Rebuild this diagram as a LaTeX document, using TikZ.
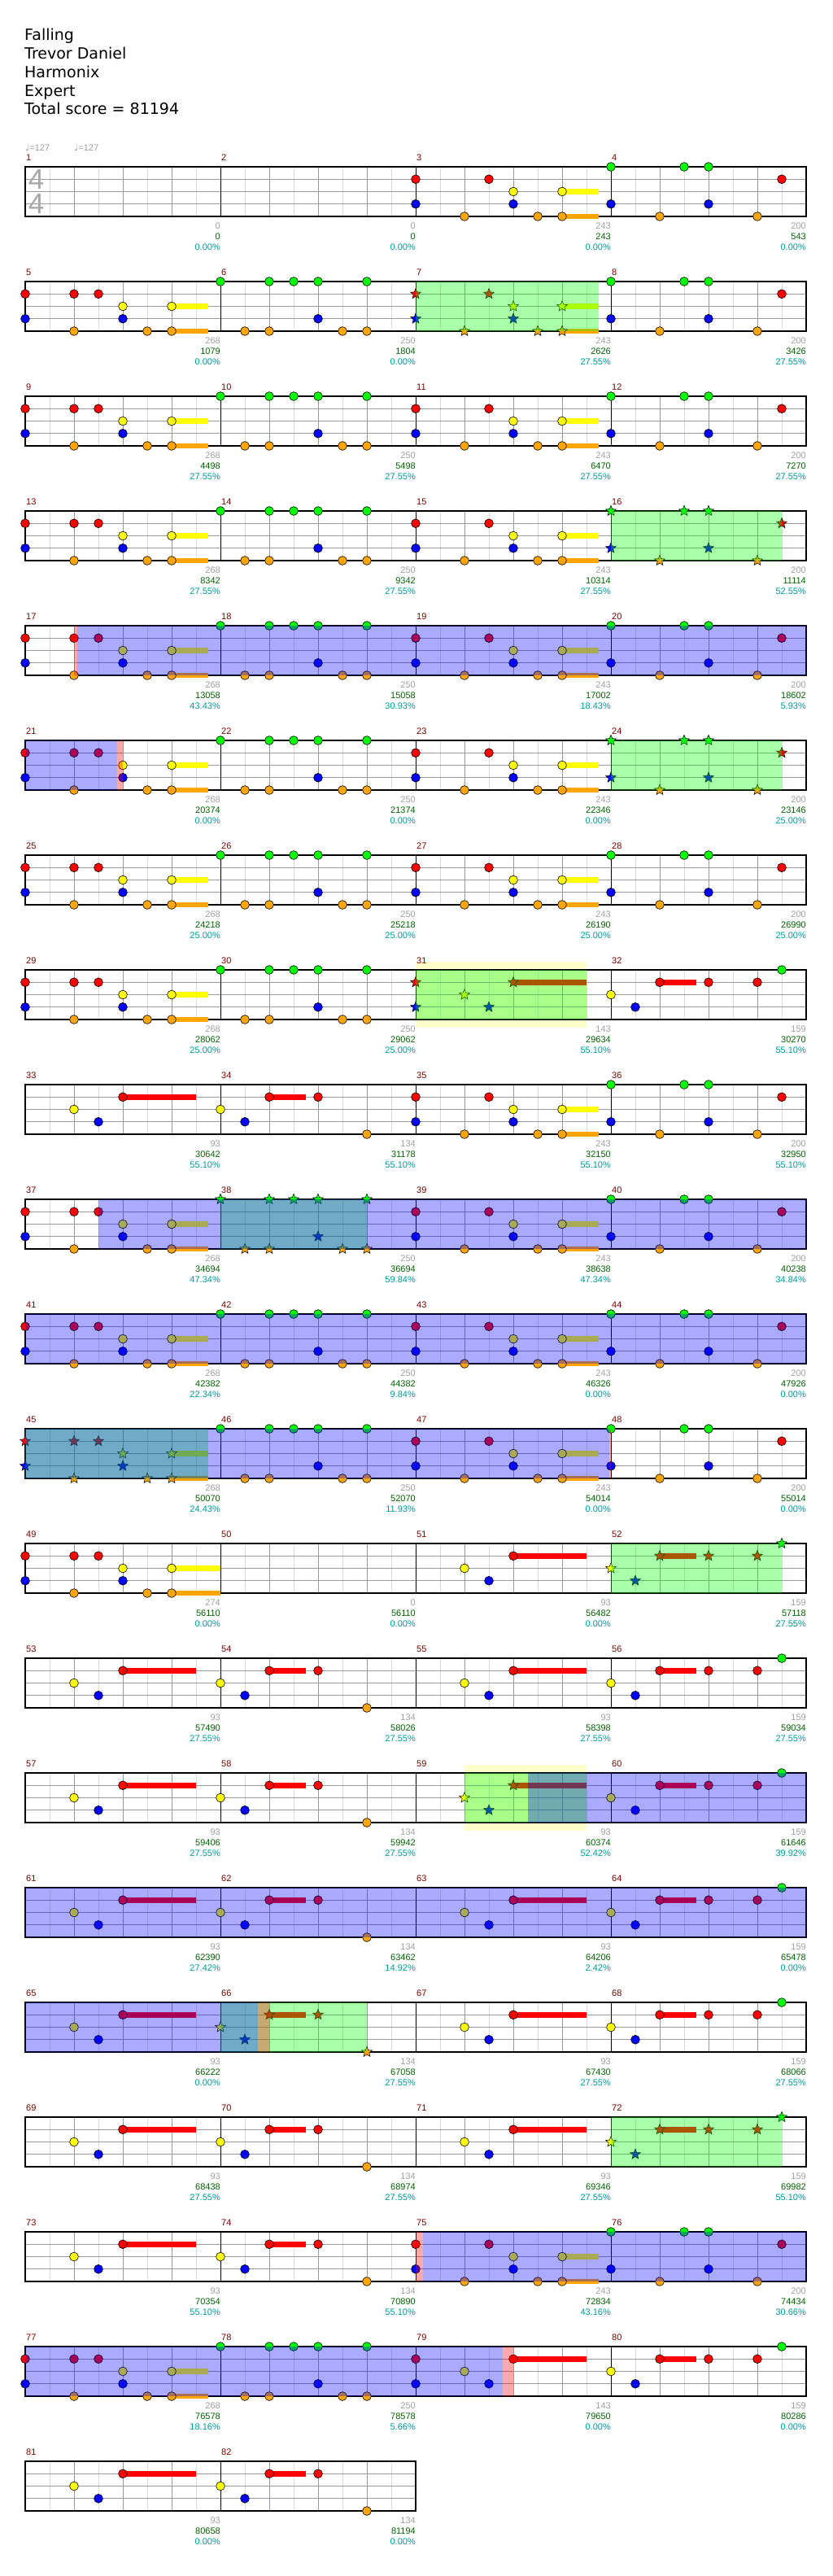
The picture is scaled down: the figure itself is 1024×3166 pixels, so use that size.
\documentclass[tikz,border=0pt]{standalone}
\usepackage{fontspec}
\setmainfont{Liberation Sans}
\newfontfamily\headfont{DejaVu Sans}
\usetikzlibrary{shapes.geometric}

\definecolor{gemgreen}{HTML}{00FF00}
\definecolor{gemred}{HTML}{FF0000}
\definecolor{gemyellow}{HTML}{FFFF00}
\definecolor{gemblue}{HTML}{0000FF}
\definecolor{gemorange}{HTML}{FFA500}
\colorlet{lane0}{gemgreen}
\colorlet{lane1}{gemred}
\colorlet{lane2}{gemyellow}
\colorlet{lane3}{gemblue}
\colorlet{lane4}{gemorange}
\definecolor{beatgray}{HTML}{9A9A9A}
\definecolor{halfgray}{HTML}{DCDCDC}
\definecolor{barred}{HTML}{800000}
\definecolor{bargray}{HTML}{A0A0A0}
\definecolor{totalgreen}{HTML}{006400}
\definecolor{pctteal}{HTML}{009A9A}
\definecolor{soloyellow}{HTML}{FFFFCC}
\definecolor{sigray}{HTML}{A8A8A8}

% one bar of gems, in beat/lane units
\newcommand\holdbar[3]{\fill[lane#2] ([yshift=3.4pt]#1,#2) rectangle ([yshift=-3.4pt]#3,#2);}
\newcommand\gems[2]{\foreach \gb/\gl in {#2} {\node[#1, fill=lane\gl] at (\gb,\gl) {};}}
\newcommand\patX[1]{}
\newcommand\patAp[1]{\holdbar{3}{2}{3.75}\holdbar{3}{4}{3.75}\gems{#1}{0/1,0/3,1/4,1.5/1,2/2,2/3,2.5/4,3/2,3/4}}
\newcommand\patA[1]{\patAp{#1}\gems{#1}{1/1}}
\newcommand\patAl[1]{\holdbar{3}{2}{4}\holdbar{3}{4}{4}\gems{#1}{0/1,0/3,1/1,1/4,1.5/1,2/2,2/3,2.5/4,3/2,3/4}}
\newcommand\patB[1]{\gems{#1}{0/0,0.5/4,1/0,1/4,1.5/0,2/0,2/3,2.5/4,3/0,3/4}}
\newcommand\patD[1]{\gems{#1}{0/0,0/3,1/4,1.5/0,2/0,2/3,3/4,3.5/1}}
\newcommand\patE[1]{\holdbar{2}{1}{3.5}\gems{#1}{1/2,1.5/3,2/1}}
\newcommand\patH[1]{\patE{#1}\gems{#1}{0/1,0/3}}
\newcommand\patF[1]{\holdbar{1}{1}{1.75}\gems{#1}{0/2,0.5/3,1/1,2/1,3/4}}
\newcommand\patG[1]{\holdbar{1}{1}{1.75}\gems{#1}{0/2,0.5/3,1/1,2/1,3/1,3.5/0}}

% staff grid of one row
\newcommand\staffrow[2]{%
  \pgfmathsetmacro\rowy{205+141*#1}%
  \pgfmathsetmacro\roww{240*#2}%
  \begin{scope}[shift={(31pt,-\rowy pt)}]
    \foreach \k in {30,90,...,\roww} {\draw[halfgray, line width=0.9pt] (\k,0) -- (\k,61);}
    \foreach \k in {60,120,...,\roww} {\draw[beatgray, line width=0.9pt] (\k,0) -- (\k,61);}
    \foreach \yy in {15.25,30.5,45.75} {\draw[beatgray, line width=1pt] (0,\yy) -- (\roww,\yy);}
    \foreach \k in {240,480,...,\roww} {\draw[black, line width=0.9pt] (\k,0) -- (\k,61);}
    \draw[black, line width=1.5pt] (0,0) rectangle (\roww,61);
  \end{scope}}

% shaded spans, from/to in beats from the row start
\newcommand\solo[3]{\pgfmathsetmacro\oy{205+141*#1}\fill[soloyellow] ({31+60*#2},{\oy-10}) rectangle ({31+60*#3},{\oy+71});}
\newcommand\ovl[4]{\pgfmathsetmacro\oy{205+141*#1}\fill[#4, fill opacity=0.333] ({31+60*#2},\oy) rectangle ({31+60*#3},{\oy+61});}

\begin{document}
\begin{tikzpicture}[x=1pt, y=-1pt,
    note/.style={circle, draw=black, line width=0.6pt, minimum size=10.8pt, inner sep=0pt},
    starnote/.style={star, star points=5, star point ratio=2.3, draw=black, line width=0.5pt, minimum size=13.5pt, inner sep=0pt},
    barno/.style={anchor=base west, inner sep=0pt, text=barred, font=\fontsize{11}{11}\selectfont},
    scoreno/.style={anchor=base east, inner sep=0pt, font=\fontsize{11}{11}\selectfont},
    headline/.style={anchor=base west, inner sep=0pt, font=\headfont\fontsize{19}{19}\selectfont},
    tempo/.style={anchor=base west, inner sep=0pt, text=bargray, font=\fontsize{11}{11}\selectfont}
  ]
  \useasboundingbox (0,0) rectangle (1024,3166);

  \foreach \t [count=\i] in {Falling, Trevor Daniel, Harmonix, Expert, Total score = 81194}
    {\node[headline] (head\i) at (30,{50+22.75*(\i-1)}) {\t};}
  \node[tempo] (tempo1) at (31,185) {{\headfont ♩}=127};
  \node[tempo] (tempo2) at (91,185) {{\headfont ♩}=127};

  \solo{7}{8}{11.5}
  \solo{14}{9}{11.5}

  \foreach \r in {0,...,19} {\staffrow{\r}{4}}
  \staffrow{20}{2}

  \node[text=sigray, inner sep=0pt, font=\fontsize{35}{35}\selectfont] (sigtop) at (44.5,220.5) {4};
  \node[text=sigray, inner sep=0pt, font=\fontsize{35}{35}\selectfont] (sigbot) at (44.5,250) {4};

  \foreach \mm/\pat/\gem/\gsc/\tsc/\psc in {
      1/X/note/0/0/0.00, 2/X/note/0/0/0.00, 3/Ap/note/243/243/0.00, 4/D/note/200/543/0.00,
      5/A/note/268/1079/0.00, 6/B/note/250/1804/0.00, 7/Ap/starnote/243/2626/27.55, 8/D/note/200/3426/27.55,
      9/A/note/268/4498/27.55, 10/B/note/250/5498/27.55, 11/Ap/note/243/6470/27.55, 12/D/note/200/7270/27.55,
      13/A/note/268/8342/27.55, 14/B/note/250/9342/27.55, 15/Ap/note/243/10314/27.55, 16/D/starnote/200/11114/52.55,
      17/A/note/268/13058/43.43, 18/B/note/250/15058/30.93, 19/Ap/note/243/17002/18.43, 20/D/note/200/18602/5.93,
      21/A/note/268/20374/0.00, 22/B/note/250/21374/0.00, 23/Ap/note/243/22346/0.00, 24/D/starnote/200/23146/25.00,
      25/A/note/268/24218/25.00, 26/B/note/250/25218/25.00, 27/Ap/note/243/26190/25.00, 28/D/note/200/26990/25.00,
      29/A/note/268/28062/25.00, 30/B/note/250/29062/25.00, 31/H/starnote/143/29634/55.10, 32/G/note/159/30270/55.10,
      33/E/note/93/30642/55.10, 34/F/note/134/31178/55.10, 35/Ap/note/243/32150/55.10, 36/D/note/200/32950/55.10,
      37/A/note/268/34694/47.34, 38/B/starnote/250/36694/59.84, 39/Ap/note/243/38638/47.34, 40/D/note/200/40238/34.84,
      41/A/note/268/42382/22.34, 42/B/note/250/44382/9.84, 43/Ap/note/243/46326/0.00, 44/D/note/200/47926/0.00,
      45/A/starnote/268/50070/24.43, 46/B/note/250/52070/11.93, 47/Ap/note/243/54014/0.00, 48/D/note/200/55014/0.00,
      49/Al/note/274/56110/0.00, 50/X/note/0/56110/0.00, 51/E/note/93/56482/0.00, 52/G/starnote/159/57118/27.55,
      53/E/note/93/57490/27.55, 54/F/note/134/58026/27.55, 55/E/note/93/58398/27.55, 56/G/note/159/59034/27.55,
      57/E/note/93/59406/27.55, 58/F/note/134/59942/27.55, 59/E/starnote/93/60374/52.42, 60/G/note/159/61646/39.92,
      61/E/note/93/62390/27.42, 62/F/note/134/63462/14.92, 63/E/note/93/64206/2.42, 64/G/note/159/65478/0.00,
      65/E/note/93/66222/0.00, 66/F/starnote/134/67058/27.55, 67/E/note/93/67430/27.55, 68/G/note/159/68066/27.55,
      69/E/note/93/68438/27.55, 70/F/note/134/68974/27.55, 71/E/note/93/69346/27.55, 72/G/starnote/159/69982/55.10,
      73/E/note/93/70354/55.10, 74/F/note/134/70890/55.10, 75/Ap/note/243/72834/43.16, 76/D/note/200/74434/30.66,
      77/A/note/268/76578/18.16, 78/B/note/250/78578/5.66, 79/H/note/143/79650/0.00, 80/G/note/159/80286/0.00,
      81/E/note/93/80658/0.00, 82/F/note/134/81194/0.00} {
    \pgfmathtruncatemacro\mr{(\mm-1)/4}
    \pgfmathtruncatemacro\mc{\mm-1-4*\mr}
    \pgfmathsetmacro\mx{31+240*\mc}
    \pgfmathsetmacro\my{205+141*\mr}
    \begin{scope}[shift={(\mx pt,-\my pt)}]
      \node[barno] (bar\mm) at (1,-8) {\mm};
      \node[scoreno, text=bargray] (pts\mm) at (240,76.5) {\gsc};
      \node[scoreno, text=totalgreen] (tot\mm) at (240,89.5) {\tsc};
      \node[scoreno, text=pctteal] (pct\mm) at (240,102.5) {\psc\%};
      \begin{scope}[x=60pt, y=-15.25pt]
        \csname pat\pat\endcsname{\gem}
      \end{scope}
    \end{scope}
  }

  % star power phrases
  \ovl{1}{8}{11.75}{gemgreen}
  \ovl{3}{12}{15.5}{gemgreen}
  \ovl{5}{12}{15.5}{gemgreen}
  \ovl{7}{8}{11.5}{gemgreen}
  \ovl{9}{4}{7}{gemgreen}
  \ovl{11}{0}{3.75}{gemgreen}
  \ovl{12}{12}{15.5}{gemgreen}
  \ovl{14}{9}{11.5}{gemgreen}
  \ovl{16}{4}{7}{gemgreen}
  \ovl{17}{12}{15.5}{gemgreen}
  % activations
  \ovl{4}{1.06}{16}{gemblue}
  \ovl{5}{0}{1.89}{gemblue}
  \ovl{9}{1.5}{16}{gemblue}
  \ovl{10}{0}{16}{gemblue}
  \ovl{11}{0}{11.97}{gemblue}
  \ovl{14}{10.3}{16}{gemblue}
  \ovl{15}{0}{16}{gemblue}
  \ovl{16}{0}{4.76}{gemblue}
  \ovl{18}{8.15}{16}{gemblue}
  \ovl{19}{0}{9.78}{gemblue}
  \ovl{4}{1}{1.06}{gemred}
  \ovl{5}{1.89}{2}{gemred}
  \ovl{11}{11.97}{12}{gemred}
  \ovl{16}{4.76}{5}{gemred}
  \ovl{18}{8}{8.15}{gemred}
  \ovl{19}{9.78}{10}{gemred}
\end{tikzpicture}
\end{document}
